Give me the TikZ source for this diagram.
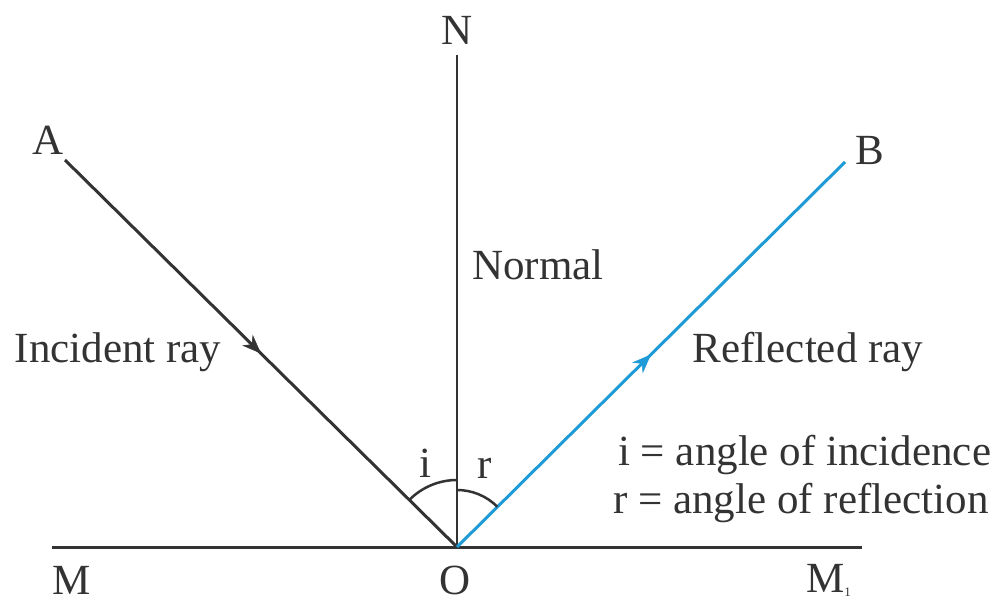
\documentclass[tikz,border=0pt]{standalone}
\usepackage{fontspec}
\setmainfont{Liberation Serif}
\usepackage{xcolor}
\usetikzlibrary{arrows.meta,decorations.markings}
\definecolor{raygray}{HTML}{333333}
\definecolor{rayblue}{HTML}{1E9AD6}
\tikzset{
  ray/.style={line width=3pt,draw=raygray},
  midarrow/.style={postaction={decorate},decoration={markings,
      mark=at position 0.5 with {\arrow[fill=#1,draw=#1,line width=0.5pt]{Stealth[length=19pt,width=15pt,inset=6pt]}}}},
  lbl/.style={font=\fontsize{43}{51}\selectfont,text=raygray,inner sep=0pt}
}

\begin{document}
\begin{tikzpicture}[x=1pt,y=1pt]
  \useasboundingbox (0,0) rectangle (1002,603);
  % points on the mirror and the rays
  \coordinate (O) at (457,56);
  \coordinate (Mleft) at (52,56);
  \coordinate (Mright) at (862,56);
  \coordinate (Ntop) at (457,548);
  \coordinate (Aend) at (65,443);
  \coordinate (Bend) at (845,441);
  % mirror and normal
  \draw[ray] (Mleft) -- (Mright);
  \draw[ray,line width=2.5pt] (O) -- (Ntop);
  % rays
  \draw[ray,midarrow=raygray] (Aend) -- (O);
  \draw[ray,draw=rayblue,midarrow=rayblue] (O) -- (Bend);
  % angle arcs
  \draw[ray,line width=2.5pt] (O) ++(135:67) arc[start angle=135,end angle=90,radius=67];
  \draw[ray,line width=2.5pt] (O) ++(90:57) arc[start angle=90,end angle=45,radius=57];
  % labels
  \foreach \name/\pos/\txt in {lA/{48,463}/A,lB/{870,453}/B,lN/{457,573}/N,
      lM/{72,23}/M,lO/{455,23}/O,li/{425,140}/i,lr/{485,135}/r} {
    \node[lbl] (\name) at (\pos) {\txt};
  }
  \node[lbl,anchor=west] (lMone) at (806,23) {M\raisebox{-4pt}{\fontsize{13}{13}\selectfont 1}};
  \node[lbl] (normal) at (538,338) {Normal};
  \node[lbl] (incident) at (118,251) {Incident ray};
  \node[lbl] (reflected) at (808,251) {Reflected ray};
  \node[lbl,anchor=west] (keyi) at (618,148) {i = angle of incidence};
  \node[lbl,anchor=west] (keyr) at (613,100) {r = angle of reflection};
\end{tikzpicture}
\end{document}
